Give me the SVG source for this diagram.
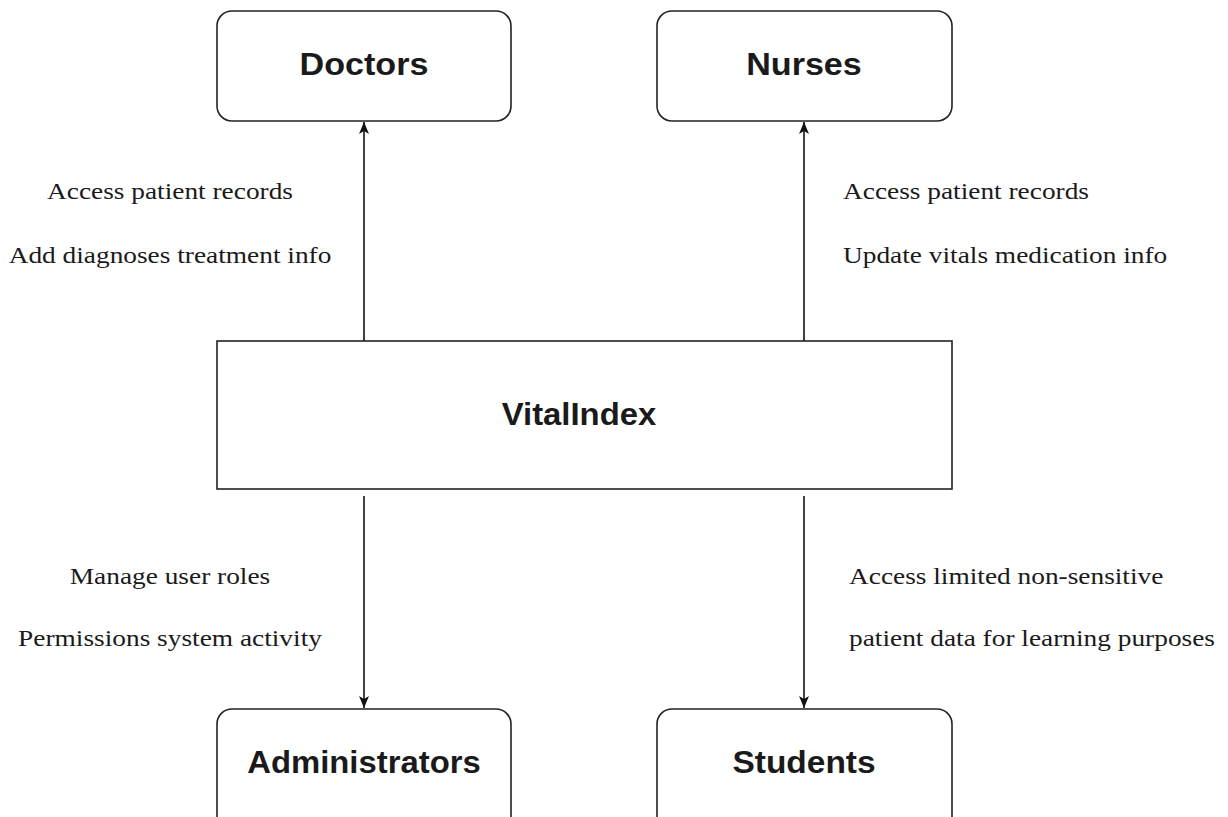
<svg xmlns="http://www.w3.org/2000/svg" width="1228" height="817" viewBox="0 0 1228 817">
  <style>
    .box { fill: #ffffff; stroke: #222222; stroke-width: 1.6; }
    .title { font-family: "Liberation Sans", Arial, sans-serif; font-weight: bold; font-size: 31px; fill: #1a1a1a; text-anchor: middle; }
    .label { font-family: "Liberation Serif", "Times New Roman", serif; font-size: 24px; fill: #1a1a1a; }
    .mid { text-anchor: middle; }
    .edge { stroke: #111111; stroke-width: 1.6; fill: none; }
  </style>
  <defs>
    <marker id="tip" viewBox="0 0 12 10" refX="12" refY="5" markerWidth="12" markerHeight="10" markerUnits="userSpaceOnUse" orient="auto">
      <path d="M0,0 L12,5 L0,10 L3,5 Z" fill="#111111"/>
    </marker>
  </defs>
  <rect width="1228" height="817" fill="#ffffff"/>

  <g id="node-doctors">
    <rect class="box" x="217" y="11" width="294" height="110" rx="15"/>
    <text class="title" transform="translate(364,75) scale(1.1,1)">Doctors</text>
  </g>
  <g id="node-nurses">
    <rect class="box" x="657" y="11" width="295" height="110" rx="15"/>
    <text class="title" transform="translate(804,75) scale(1.1,1)">Nurses</text>
  </g>
  <g id="node-vitalindex">
    <rect class="box" x="217" y="341" width="735" height="148"/>
    <text class="title" transform="translate(579,425) scale(1.06,1)">VitalIndex</text>
  </g>
  <g id="node-administrators">
    <rect class="box" x="217" y="709" width="294" height="130" rx="15"/>
    <text class="title" transform="translate(364,773) scale(1.06,1)">Administrators</text>
  </g>
  <g id="node-students">
    <rect class="box" x="657" y="709" width="295" height="130" rx="15"/>
    <text class="title" transform="translate(804,773) scale(1.08,1)">Students</text>
  </g>

  <g id="connectors">
    <line class="edge" x1="364" y1="341" x2="364" y2="122" marker-end="url(#tip)"/>
    <line class="edge" x1="804" y1="341" x2="804" y2="122" marker-end="url(#tip)"/>
    <line class="edge" x1="364" y1="496" x2="364" y2="708" marker-end="url(#tip)"/>
    <line class="edge" x1="804" y1="496" x2="804" y2="708" marker-end="url(#tip)"/>
  </g>

  <g id="labels">
    <text class="label mid" transform="translate(170,199) scale(1.14,1)">Access patient records</text>
    <text class="label mid" transform="translate(170,263) scale(1.14,1)">Add diagnoses treatment info</text>
    <text class="label" transform="translate(843,199) scale(1.14,1)">Access patient records</text>
    <text class="label" transform="translate(843,263) scale(1.14,1)">Update vitals medication info</text>
    <text class="label mid" transform="translate(170,584) scale(1.14,1)">Manage user roles</text>
    <text class="label mid" transform="translate(170,646) scale(1.14,1)">Permissions system activity</text>
    <text class="label" transform="translate(849,584) scale(1.14,1)">Access limited non-sensitive</text>
    <text class="label" transform="translate(849,646) scale(1.14,1)">patient data for learning purposes</text>
  </g>
</svg>
